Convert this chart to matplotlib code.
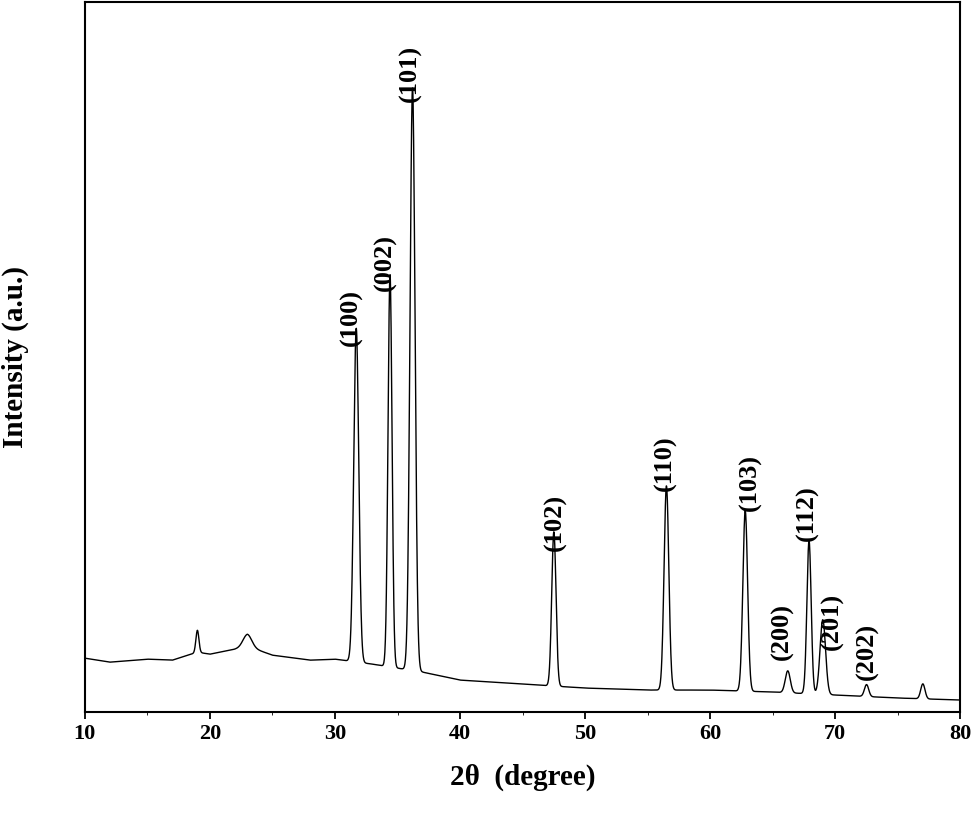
import numpy as np
import matplotlib.pyplot as plt

# background level (intensity in arbitrary units)
bg_x = [10, 12, 15, 17, 19, 20, 22, 23, 25, 28, 30, 33, 37, 40, 45, 50, 55, 60, 65, 70, 75, 80]
bg_y = [54, 50, 53, 52, 60, 58, 63, 66, 57, 52, 53, 48, 40, 32, 28, 24, 22, 22, 20, 17, 14, 12]

# peaks: position (2theta), height above background, gaussian sigma
peak_pos = [19.0, 23.0, 31.7, 34.4, 36.2, 47.5, 56.5, 62.8, 66.2, 67.9, 69.0, 72.5, 77.0]
peak_amp = [22, 12, 335, 394, 585, 155, 205, 181, 22, 154, 75, 12, 15]
peak_sig = [0.12, 0.35, 0.2, 0.16, 0.2, 0.17, 0.19, 0.19, 0.2, 0.17, 0.22, 0.17, 0.17]

hkl = ['(100)', '(002)', '(101)', '(102)', '(110)', '(103)', '(200)', '(112)', '(201)', '(202)']
label_x = [31.3, 34.0, 36.0, 47.6, 56.4, 63.2, 65.8, 67.8, 69.8, 72.6]
label_y = [367, 422, 612, 162, 222, 202, 52, 172, 62, 32]

x = np.linspace(10, 80, 3500)
y = np.interp(x, bg_x, bg_y)
for p, a, s in zip(peak_pos, peak_amp, peak_sig):
    y = y + a * np.exp(-0.5 * ((x - p) / s) ** 2)

plt.rcParams['font.family'] = ['Liberation Serif', 'DejaVu Serif']
fig = plt.figure(figsize=(9.75, 8.25), dpi=100)
ax = fig.add_axes([0.087, 0.137, 0.898, 0.86])
ax.plot(x, y, color='black', lw=1)
for t, lx, ly in zip(hkl, label_x, label_y):
    ax.text(lx, ly, t, rotation=90, ha='center', va='bottom', fontsize=19, fontweight='bold')

ax.set_xlim(10, 80)
ax.set_ylim(0, 712)
ax.set_xticks(range(10, 81, 10))
ax.set_xticks(range(15, 80, 10), minor=True)
ax.set_yticks([])
for sp in ax.spines.values():
    sp.set_linewidth(1.5)
for lab in ax.get_xticklabels():
    lab.set_fontweight('bold')
ax.tick_params(axis='x', labelsize=16, direction='out', length=5, width=1.3)
ax.set_xlabel('2θ  (degree)', fontsize=21, fontweight='bold', labelpad=14)
ax.set_ylabel('Intensity (a.u.)', fontsize=21, fontweight='bold', labelpad=40)
fig.savefig('out.png', dpi=100)
